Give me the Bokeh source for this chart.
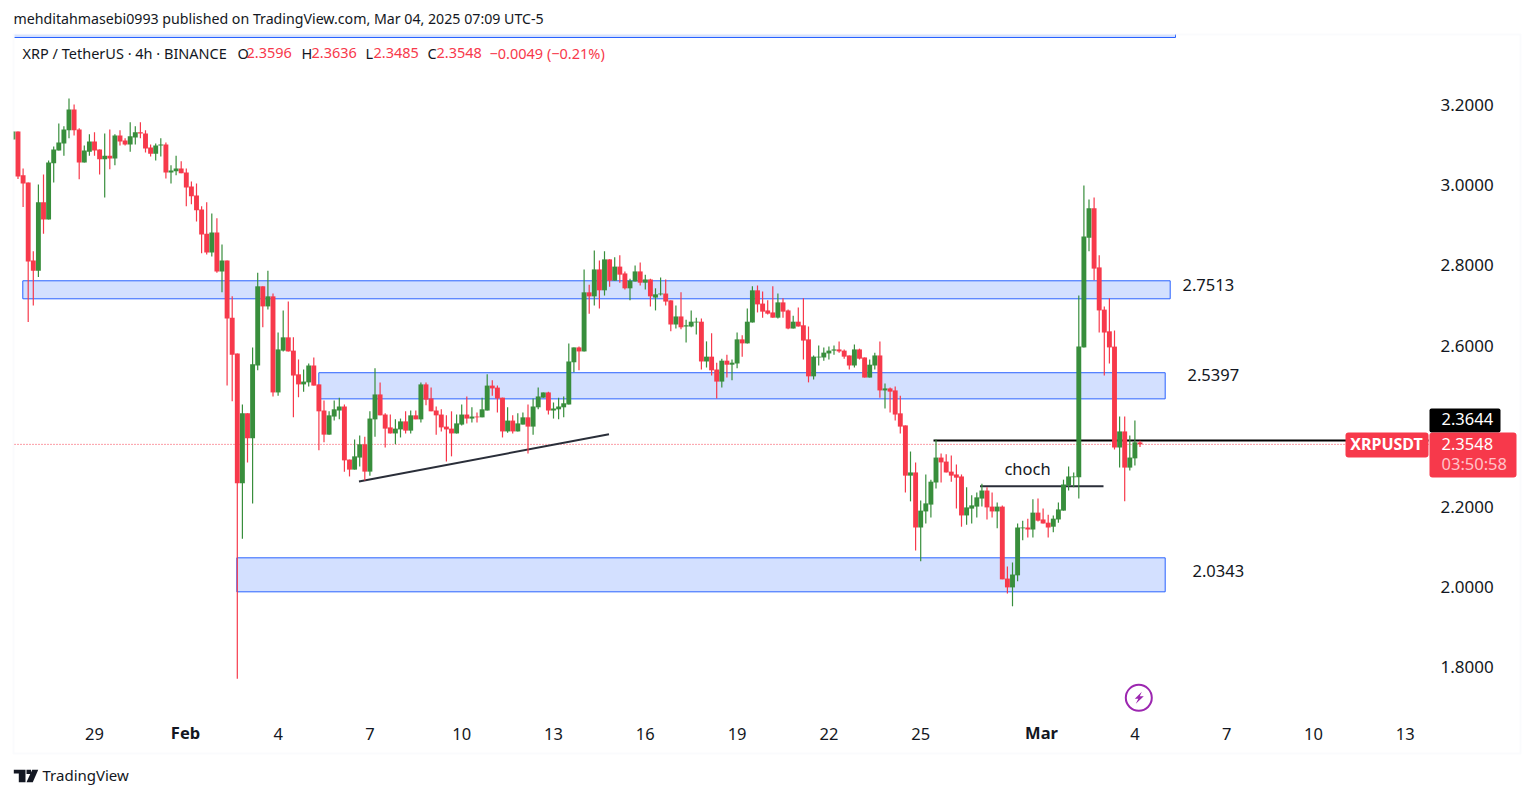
from bokeh.plotting import figure
from bokeh.models import (ColumnDataSource, Range1d, LinearAxis, FixedTicker, Label,
                          BoxAnnotation, PolyAnnotation)
from bokeh.embed import file_html
from bokeh.resources import INLINE

# ---------- data (prices; first bar index is -1) ----------
open_ = [3.113,
 3.133,3.024,3.006,2.812,2.787,2.957,2.914,3.054,3.086,3.103,
 3.136,3.188,3.138,3.056,3.083,3.108,3.088,3.064,3.073,3.066,
 3.123,3.111,3.101,3.118,3.131,3.128,3.093,3.078,3.098,3.101,
 3.031,3.034,3.041,3.031,2.996,2.974,2.939,2.879,2.832,2.882,
 2.785,2.812,2.670,2.581,2.258,2.432,2.370,2.551,2.748,2.698,
 2.723,2.484,2.588,2.621,2.588,2.529,2.504,2.509,2.551,2.504,
 2.439,2.379,2.424,2.439,2.449,2.317,2.292,2.322,2.355,2.287,
 2.417,2.479,2.429,2.397,2.382,2.392,2.412,2.389,2.427,2.417,
 2.504,2.469,2.439,2.429,2.399,2.394,2.382,2.404,2.429,2.419,
 2.424,2.422,2.439,2.501,2.496,2.471,2.387,2.414,2.387,2.404,
 2.422,2.399,2.447,2.471,2.484,2.439,2.442,2.447,2.454,2.559,
 2.596,2.586,2.733,2.723,2.790,2.738,2.815,2.762,2.797,2.780,
 2.743,2.760,2.785,2.757,2.765,2.720,2.728,2.730,2.713,2.653,
 2.673,2.648,2.648,2.658,2.660,2.561,2.573,2.541,2.511,2.563,
 2.553,2.556,2.616,2.606,2.658,2.738,2.705,2.688,2.683,2.670,
 2.708,2.688,2.643,2.660,2.651,2.616,2.524,2.571,2.571,2.581,
 2.588,2.591,2.588,2.576,2.551,2.591,2.571,2.521,2.551,2.576,
 2.489,2.494,2.489,2.432,2.402,2.277,2.285,2.148,2.188,2.205,
 2.260,2.322,2.312,2.287,2.280,2.275,2.178,2.195,2.200,2.220,
 2.240,2.200,2.188,2.200,2.021,1.999,2.029,2.146,2.148,2.143,
 2.185,2.168,2.160,2.150,2.168,2.190,2.253,2.273,2.273,2.596,
 2.869,2.942,2.795,2.690,2.636,2.598,2.347,2.387,2.297,2.320,2.3596]
high = [3.133,
 3.133,3.041,3.006,2.835,3.001,3.026,3.061,3.096,3.153,3.146,
 3.215,3.200,3.141,3.098,3.126,3.131,3.088,3.128,3.138,3.126,
 3.136,3.116,3.156,3.146,3.156,3.136,3.101,3.103,3.116,3.106,
 3.049,3.073,3.059,3.041,3.009,3.004,2.947,2.957,2.929,2.917,
 2.852,2.812,2.723,2.581,2.454,2.432,2.596,2.782,2.748,2.787,
 2.730,2.633,2.688,2.710,2.621,2.566,2.541,2.556,2.571,2.504,
 2.464,2.437,2.464,2.471,2.454,2.317,2.367,2.377,2.374,2.437,
 2.544,2.509,2.432,2.429,2.417,2.419,2.437,2.439,2.439,2.509,
 2.509,2.496,2.449,2.442,2.427,2.437,2.429,2.454,2.474,2.447,
 2.434,2.471,2.529,2.514,2.501,2.471,2.447,2.427,2.432,2.434,
 2.454,2.469,2.496,2.484,2.486,2.459,2.471,2.474,2.606,2.596,
 2.598,2.790,2.752,2.837,2.812,2.835,2.815,2.820,2.825,2.785,
 2.767,2.800,2.807,2.777,2.767,2.743,2.770,2.765,2.713,2.700,
 2.733,2.665,2.688,2.670,2.668,2.611,2.631,2.558,2.568,2.578,
 2.566,2.633,2.626,2.693,2.748,2.750,2.735,2.713,2.748,2.730,
 2.718,2.690,2.675,2.695,2.718,2.648,2.576,2.601,2.596,2.598,
 2.601,2.611,2.591,2.576,2.603,2.593,2.571,2.566,2.583,2.611,
 2.506,2.496,2.499,2.476,2.402,2.337,2.310,2.215,2.280,2.267,
 2.367,2.332,2.330,2.327,2.305,2.280,2.248,2.228,2.235,2.257,
 2.248,2.235,2.210,2.203,2.051,2.061,2.158,2.165,2.170,2.218,
 2.220,2.195,2.180,2.178,2.210,2.267,2.300,2.285,2.725,2.999,
 2.964,2.969,2.825,2.698,2.718,2.638,2.424,2.424,2.377,2.414,2.3636]
low = [3.113,
 3.015,2.945,2.659,2.700,2.771,2.879,2.914,3.006,3.086,3.073,
 3.116,3.123,3.014,3.056,3.073,3.073,3.026,2.969,3.039,3.049,
 3.098,3.098,3.083,3.101,3.116,3.081,3.071,3.061,3.071,3.016,
 3.004,3.024,3.029,2.947,2.952,2.909,2.830,2.827,2.822,2.782,
 2.733,2.501,2.462,1.772,2.120,2.310,2.208,2.539,2.646,2.690,
 2.474,2.476,2.586,2.586,2.422,2.472,2.486,2.499,2.501,2.340,
 2.360,2.379,2.414,2.417,2.287,2.275,2.292,2.300,2.265,2.277,
 2.374,2.427,2.347,2.382,2.355,2.372,2.382,2.382,2.417,2.409,
 2.452,2.437,2.379,2.387,2.312,2.325,2.382,2.402,2.407,2.409,
 2.409,2.422,2.439,2.476,2.434,2.372,2.384,2.382,2.387,2.404,
 2.332,2.379,2.442,2.471,2.429,2.419,2.417,2.422,2.454,2.534,
 2.539,2.586,2.680,2.700,2.693,2.725,2.747,2.762,2.757,2.740,
 2.713,2.760,2.750,2.740,2.698,2.688,2.725,2.700,2.636,2.643,
 2.641,2.608,2.646,2.628,2.541,2.546,2.526,2.469,2.496,2.521,
 2.514,2.544,2.573,2.606,2.658,2.683,2.670,2.678,2.670,2.668,
 2.670,2.641,2.643,2.648,2.566,2.509,2.516,2.551,2.563,2.566,
 2.578,2.583,2.568,2.541,2.546,2.566,2.521,2.521,2.541,2.471,
 2.444,2.434,2.414,2.382,2.235,2.213,2.091,2.064,2.158,2.173,
 2.245,2.260,2.285,2.262,2.195,2.150,2.155,2.158,2.173,2.200,
 2.168,2.173,2.146,2.019,1.984,1.952,2.014,2.116,2.123,2.123,
 2.163,2.158,2.123,2.136,2.160,2.190,2.240,2.248,2.220,2.596,
 2.835,2.763,2.633,2.526,2.556,2.342,2.297,2.213,2.290,2.302,2.3485]
close = [3.133,
 3.021,3.004,2.810,2.787,2.957,2.914,3.056,3.088,3.106,3.138,
 3.188,3.136,3.056,3.086,3.108,3.086,3.064,3.073,3.066,3.123,
 3.108,3.101,3.121,3.131,3.128,3.091,3.078,3.098,3.101,3.031,
 3.036,3.041,3.029,2.994,2.972,2.937,2.877,2.832,2.882,2.785,
 2.812,2.668,2.578,2.258,2.432,2.370,2.554,2.748,2.698,2.723,
 2.484,2.591,2.621,2.586,2.526,2.504,2.511,2.551,2.501,2.437,
 2.379,2.427,2.442,2.449,2.315,2.292,2.325,2.355,2.287,2.419,
 2.479,2.427,2.394,2.382,2.394,2.412,2.389,2.427,2.417,2.504,
 2.466,2.437,2.427,2.397,2.392,2.382,2.407,2.429,2.419,2.424,
 2.422,2.442,2.501,2.494,2.469,2.387,2.414,2.387,2.407,2.422,
 2.399,2.449,2.474,2.484,2.439,2.444,2.449,2.457,2.561,2.596,
 2.586,2.733,2.723,2.790,2.738,2.815,2.762,2.797,2.777,2.743,
 2.762,2.785,2.757,2.765,2.723,2.728,2.730,2.710,2.653,2.673,
 2.646,2.651,2.660,2.660,2.561,2.573,2.539,2.511,2.563,2.553,
 2.558,2.616,2.606,2.660,2.738,2.703,2.685,2.680,2.670,2.708,
 2.685,2.643,2.660,2.648,2.613,2.524,2.573,2.573,2.583,2.588,
 2.591,2.586,2.573,2.551,2.591,2.568,2.521,2.553,2.576,2.489,
 2.494,2.486,2.429,2.399,2.277,2.285,2.148,2.190,2.208,2.262,
 2.322,2.310,2.285,2.277,2.272,2.178,2.198,2.203,2.223,2.240,
 2.198,2.188,2.200,2.019,1.999,2.031,2.148,2.148,2.143,2.185,
 2.165,2.158,2.148,2.170,2.193,2.255,2.275,2.275,2.598,2.872,
 2.942,2.792,2.688,2.633,2.596,2.347,2.387,2.297,2.322,2.360,2.3548]

price_ticks = [1.8, 2.0, 2.2, 2.4, 2.6, 2.8, 3.0, 3.2]
time_ticks = [15, 33, 51, 69, 87, 105, 123, 141, 159, 177, 201, 219, 237, 254, 272]
time_labels = ["29", "Feb", "4", "7", "10", "13", "16", "19", "22", "25", "Mar", "4", "7", "10", "13"]

zones = [(2.7617, 2.7169, "2.7513"), (2.533, 2.468, "2.5397"), (2.0726, 1.988, "2.0343")]
last_price = 2.3548
resistance = 2.3644
choch_level = 2.2507

GREEN = "#388E3C"; RED = "#F7394B"; INK = "#131722"; BLUE = "#2962FF"; PALE = "#D3E0FF"
FONT = "Noto Sans"

# ---------- the frame covers the whole page; coordinates below are page pixels ----------
W, H = 1528, 792
FL, FR, FT, FB = 14, 1428, 34, 718        # edges of the chart pane
PX0, PXBAR = 17.5, 5.1                    # page x of bar 0, pixels per bar
PY2, PYUNIT = 586.5, 402.0                # page y of price 2.0, pixels per price unit
bx = lambda px: (px - PX0) / PXBAR
by = lambda py: 2 + (PY2 - py) / PYUNIT

p = figure(width=W, height=H, output_backend="svg", toolbar_location=None,
           x_range=Range1d(bx(0), bx(W)), y_range=Range1d(by(H), by(0)),
           x_axis_location=None, y_axis_location=None,
           min_border=0, background_fill_color="white", border_fill_color="white")
p.outline_line_color = None
p.grid.visible = False

# ---------- axes, pinned to the edges of the pane ----------
yax = LinearAxis(ticker=FixedTicker(ticks=price_ticks), fixed_location=bx(FR),
                 major_label_overrides={t: f"{t:.4f}" for t in price_ticks})
xax = LinearAxis(ticker=FixedTicker(ticks=time_ticks), fixed_location=by(FB),
                 major_label_overrides={t: ("" if l in ("Feb", "Mar") else l)
                                        for t, l in zip(time_ticks, time_labels)})
for ax, standoff, size in ((yax, 12, "17px"), (xax, 9, "16.5px")):
    ax.axis_line_color = None
    ax.major_tick_line_color = None
    ax.minor_tick_line_color = None
    ax.major_tick_out = 0
    ax.major_tick_in = 0
    ax.major_label_text_font = FONT
    ax.major_label_text_font_size = size
    ax.major_label_text_color = INK
    ax.major_label_standoff = standoff
p.add_layout(yax, "right")
p.add_layout(xax, "below")

# ---------- drawings under the candles ----------
p.quad(left=[bx(FL)], right=[bx(1175)], top=[by(FT)], bottom=[by(37)],
       fill_color=PALE, line_color=None)
p.line([bx(FL), bx(1175)], [by(37), by(37)], line_color=BLUE, line_width=1)
p.line([bx(1175), bx(1175)], [by(FT), by(37)], line_color=BLUE, line_width=1)
p.quad(left=[bx(22.3)], right=[bx(1169.7)], top=[zones[0][0]], bottom=[zones[0][1]],
       fill_color=PALE, line_color=BLUE, line_width=1)
p.quad(left=[bx(318.3)], right=[bx(1164.7)], top=[zones[1][0]], bottom=[zones[1][1]],
       fill_color=PALE, line_color=BLUE, line_width=1)
p.quad(left=[bx(236.3)], right=[bx(1164.7)], top=[zones[2][0]], bottom=[zones[2][1]],
       fill_color=PALE, line_color=BLUE, line_width=1)

p.line([bx(FL), bx(FR)], [last_price, last_price], line_color=RED, line_width=1, line_dash="1 2")
p.line([bx(933), bx(FR)], [resistance, resistance], line_color="#000000", line_width=2)
p.line([bx(979.5), bx(1103)], [choch_level, choch_level], line_color="#2A2E39", line_width=2)
p.line([bx(358.5), bx(608.5)], [2.2624, 2.380], line_color="#2A2E39", line_width=2)

# ---------- candles ----------
n = len(open_)
idx = list(range(-1, n - 1))
src = ColumnDataSource(dict(
    x=idx, high=high, low=low,
    top=[max(a, b) for a, b in zip(open_, close)],
    bottom=[min(a, b) for a, b in zip(open_, close)],
    color=[GREEN if c >= o else RED for o, c in zip(open_, close)]))
p.segment(x0="x", x1="x", y0="low", y1="high", line_color="color", line_width=1.2, source=src)
p.vbar(x="x", width=0.96, top="top", bottom="bottom", fill_color="color", line_color=None, source=src)

# bar left of the pane's edge is cut off there
p.quad(left=[bx(0)], right=[bx(13)], top=[by(FT)], bottom=[by(FB)], fill_color="white", line_color=None)

# ---------- lightning icon ----------
icx, icy = bx(1138.3), by(697.3)
p.scatter([icx], [icy], size=26, marker="circle", fill_color="white", line_color="#9C27B0", line_width=2)
bolt = [(3, -6), (-4, 1), (-0.5, 1), (-3, 6), (5, -1.5), (1, -1.5)]
p.patch([icx + a / PXBAR for a, b in bolt], [icy - b / PYUNIT for a, b in bolt],
        fill_color="#9C27B0", line_color=None)

# ---------- everything placed on the page ----------
def sx(px): return px
def sy(py): return H - py

def text(px, py, s, size="14px", color=INK, style="normal", align="left", font=FONT):
    p.add_layout(Label(x=sx(px), y=sy(py - 1.5), x_units="screen", y_units="screen", text=s,
                       text_font=font, text_font_size=size, text_color=color, level="overlay",
                       text_font_style=style, text_align=align, text_baseline="middle"))

def box(l, r, t, b, color, radius=None, line=None, lw=1):
    kw = {}
    if radius is not None:
        kw["border_radius"] = radius
    p.add_layout(BoxAnnotation(left=sx(l), right=sx(r), top=sy(t), bottom=sy(b),
                               left_units="screen", right_units="screen",
                               top_units="screen", bottom_units="screen",
                               fill_color=color, fill_alpha=1 if color else 0,
                               line_color=line, line_width=lw, level="annotation", **kw))

# pane border
box(13, 1520, 34, 753, None, line="#F0F3FA", lw=2)

# price tags
box(1429, 1500, 408, 432, "#000000", radius=2)
box(1429, 1516, 432, 477, RED, radius=3)
box(1345, 1428, 432, 457, RED, radius=3)

# header
text(13, 19, "mehditahmasebi0993 published on TradingView.com, Mar 04, 2025 07:09 UTC-5", size="14.2px")
text(22, 54, "XRP / TetherUS · 4h · BINANCE", size="14.5px")
for px, s, col in [(237, "O", INK), (246, "2.3596", RED), (301, "H", INK), (311, "2.3636", RED),
                   (365, "L", INK), (373, "2.3485", RED), (427, "C", INK), (436, "2.3548", RED),
                   (489, "−0.0049 (−0.21%)", RED)]:
    text(px, 54, s, size="14.5px", color=col)

# zone values, note
text(1182, 286, zones[0][2], size="16.5px")
text(1187, 376, zones[1][2], size="16.5px")
text(1192, 572, zones[2][2], size="16.5px")
text(1027, 469, "choch", size="16.5px", align="center")

# bold month ticks
text(185, 733, "Feb", size="16.5px", style="bold", align="center")
text(1041, 733, "Mar", size="16.5px", style="bold", align="center")

# tag texts
text(1386, 445, "XRPUSDT", size="16px", color="white", style="bold", align="center")
text(1441, 420, "2.3644", size="16.5px", color="white")
text(1441, 445, "2.3548", size="16.5px", color="white")
text(1441, 464, "03:50:58", size="16.5px", color="#FFC2C8")

# logo
for xs, ys in [([13.3, 25, 25, 18.3, 18.3, 13.3], [769.3, 769.3, 781.7, 781.7, 773, 773]),
               ([31.7, 37.7, 32.3, 26], [769.3, 769.3, 781.7, 781.7]),
               ([26, 30.5, 30.5, 26], [769.3, 769.3, 773.5, 773.5])]:
    p.add_layout(PolyAnnotation(xs=[sx(v) for v in xs], ys=[sy(v) for v in ys],
                                xs_units="screen", ys_units="screen",
                                fill_color=INK, fill_alpha=1, line_color=None))
text(42, 776, "TradingView", size="15px")

open("out.html", "w").write(file_html(p, INLINE))
